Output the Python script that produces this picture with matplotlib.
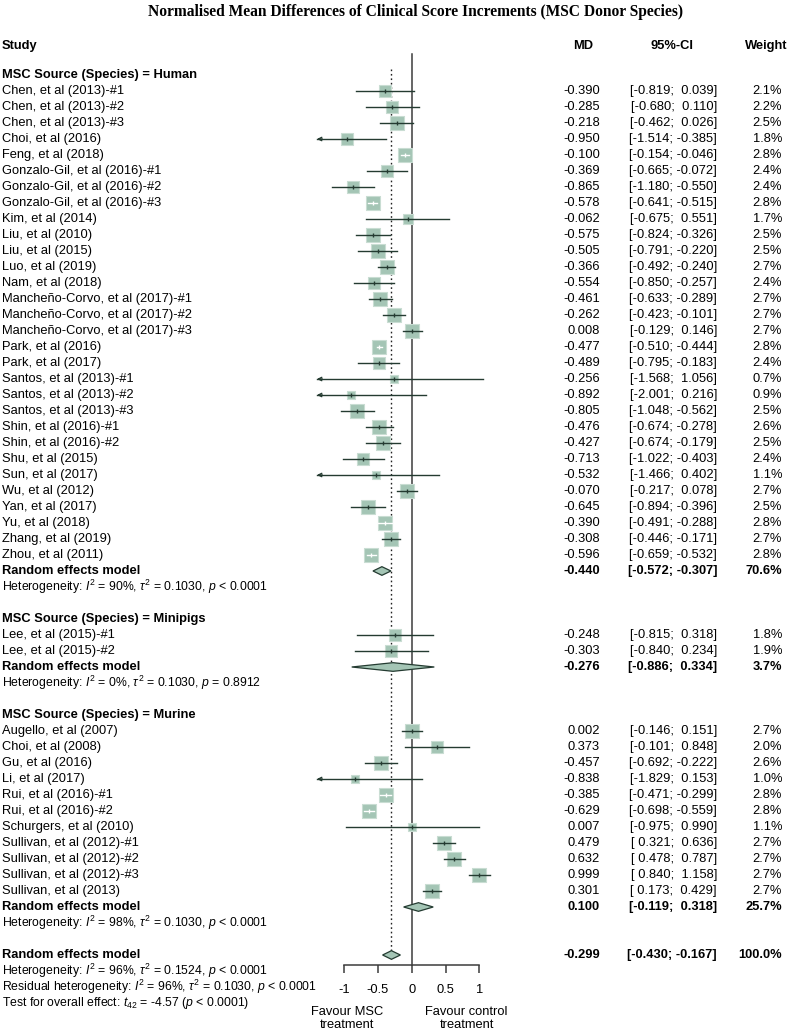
import matplotlib.pyplot as plt
import matplotlib.transforms as mtransforms
import numpy as np

plt.rcParams['font.family'] = ['Liberation Sans', 'DejaVu Sans']
plt.rcParams['mathtext.fontset'] = 'custom'
plt.rcParams['mathtext.rm'] = 'Liberation Sans'
plt.rcParams['mathtext.it'] = 'Liberation Sans:italic'
plt.rcParams['mathtext.bf'] = 'Liberation Sans:bold'

# --- data -------------------------------------------------------------
human_names = ['Chen, et al (2013)-#1', 'Chen, et al (2013)-#2', 'Chen, et al (2013)-#3',
               'Choi, et al (2016)', 'Feng, et al (2018)', 'Gonzalo-Gil, et al (2016)-#1',
               'Gonzalo-Gil, et al (2016)-#2', 'Gonzalo-Gil, et al (2016)-#3', 'Kim, et al (2014)',
               'Liu, et al (2010)', 'Liu, et al (2015)', 'Luo, et al (2019)', 'Nam, et al (2018)',
               'Mancheño-Corvo, et al (2017)-#1', 'Mancheño-Corvo, et al (2017)-#2',
               'Mancheño-Corvo, et al (2017)-#3', 'Park, et al (2016)', 'Park, et al (2017)',
               'Santos, et al (2013)-#1', 'Santos, et al (2013)-#2', 'Santos, et al (2013)-#3',
               'Shin, et al (2016)-#1', 'Shin, et al (2016)-#2', 'Shu, et al (2015)',
               'Sun, et al (2017)', 'Wu, et al (2012)', 'Yan, et al (2017)', 'Yu, et al (2018)',
               'Zhang, et al (2019)', 'Zhou, et al (2011)']
human_md = [-0.390, -0.285, -0.218, -0.950, -0.100, -0.369, -0.865, -0.578, -0.062, -0.575,
            -0.505, -0.366, -0.554, -0.461, -0.262, 0.008, -0.477, -0.489, -0.256, -0.892,
            -0.805, -0.476, -0.427, -0.713, -0.532, -0.070, -0.645, -0.390, -0.308, -0.596]
human_lo = [-0.819, -0.680, -0.462, -1.514, -0.154, -0.665, -1.180, -0.641, -0.675, -0.824,
            -0.791, -0.492, -0.850, -0.633, -0.423, -0.129, -0.510, -0.795, -1.568, -2.001,
            -1.048, -0.674, -0.674, -1.022, -1.466, -0.217, -0.894, -0.491, -0.446, -0.659]
human_hi = [0.039, 0.110, 0.026, -0.385, -0.046, -0.072, -0.550, -0.515, 0.551, -0.326,
            -0.220, -0.240, -0.257, -0.289, -0.101, 0.146, -0.444, -0.183, 1.056, 0.216,
            -0.562, -0.278, -0.179, -0.403, 0.402, 0.078, -0.396, -0.288, -0.171, -0.532]
human_w = [2.1, 2.2, 2.5, 1.8, 2.8, 2.4, 2.4, 2.8, 1.7, 2.5, 2.5, 2.7, 2.4, 2.7, 2.7, 2.7,
           2.8, 2.4, 0.7, 0.9, 2.5, 2.6, 2.5, 2.4, 1.1, 2.7, 2.5, 2.8, 2.7, 2.8]
human_re = (-0.440, -0.572, -0.307, 70.6)
human_het = r'Heterogeneity: $\mathit{I}^2$ = 90%, $\tau^2$ = 0.1030, $\mathit{p}$ < 0.0001'

mini_names = ['Lee, et al (2015)-#1', 'Lee, et al (2015)-#2']
mini_md = [-0.248, -0.303]
mini_lo = [-0.815, -0.840]
mini_hi = [0.318, 0.234]
mini_w = [1.8, 1.9]
mini_re = (-0.276, -0.886, 0.334, 3.7)
mini_het = r'Heterogeneity: $\mathit{I}^2$ = 0%, $\tau^2$ = 0.1030, $\mathit{p}$ = 0.8912'

mur_names = ['Augello, et al (2007)', 'Choi, et al (2008)', 'Gu, et al (2016)', 'Li, et al (2017)',
             'Rui, et al (2016)-#1', 'Rui, et al (2016)-#2', 'Schurgers, et al (2010)',
             'Sullivan, et al (2012)-#1', 'Sullivan, et al (2012)-#2', 'Sullivan, et al (2012)-#3',
             'Sullivan, et al (2013)']
mur_md = [0.002, 0.373, -0.457, -0.838, -0.385, -0.629, 0.007, 0.479, 0.632, 0.999, 0.301]
mur_lo = [-0.146, -0.101, -0.692, -1.829, -0.471, -0.698, -0.975, 0.321, 0.478, 0.840, 0.173]
mur_hi = [0.151, 0.848, -0.222, 0.153, -0.299, -0.559, 0.990, 0.636, 0.787, 1.158, 0.429]
mur_w = [2.7, 2.0, 2.6, 1.0, 2.8, 2.8, 1.1, 2.7, 2.7, 2.7, 2.7]
mur_re = (0.100, -0.119, 0.318, 25.7)
mur_het = r'Heterogeneity: $\mathit{I}^2$ = 98%, $\tau^2$ = 0.1030, $\mathit{p}$ < 0.0001'

overall_re = (-0.299, -0.430, -0.167, 100.0)
overall_text = [r'Heterogeneity: $\mathit{I}^2$ = 96%, $\tau^2$ = 0.1524, $\mathit{p}$ < 0.0001',
                r'Residual heterogeneity: $\mathit{I}^2$ = 96%, $\tau^2$ = 0.1030, $\mathit{p}$ < 0.0001',
                r'Test for overall effect: $\mathit{t}_{42}$ = -4.57 ($\mathit{p}$ < 0.0001)']

groups = [('Human', human_names, human_md, human_lo, human_hi, human_w, human_re, human_het),
          ('Minipigs', mini_names, mini_md, mini_lo, mini_hi, mini_w, mini_re, mini_het),
          ('Murine', mur_names, mur_md, mur_lo, mur_hi, mur_w, mur_re, mur_het)]

ticks = [-1, -0.5, 0, 0.5, 1]
tick_labels = ['-1', '-0.5', '0', '0.5', '1']

# --- layout -----------------------------------------------------------
W, H = 790, 1031
ROW, Y0 = 16, 75          # px per row, px of first row
X0, XU = 411.7, 67.7      # px of MD = 0, px per MD unit
XMIN = -1.4               # left clip of the forest
FS = 9.3
HS = 8.8                  # heterogeneity text size
SQ = '#a4c5b5'
SQ_EDGE = '#c9ddd3'
LN = '#243b31'

fig = plt.figure(figsize=(W / 100, H / 100), dpi=100)
ax = fig.add_axes([0, 0, 1, 1])
ax.set_xlim(-X0 / XU, (W - X0) / XU)
ax.set_ylim((H - Y0) / ROW, -Y0 / ROW)
ax.axis('off')
tr = mtransforms.blended_transform_factory(fig.transFigure, ax.transData)


def row(px):
    return (px - Y0) / ROW


def txt(xpx, r, s, ha='left', bold=False, size=FS):
    ax.text(xpx / W, r, s, transform=tr, ha=ha, va='center', fontsize=size,
            fontweight='bold' if bold else 'normal')


def ci_str(lo, hi):
    return '[' + f'{lo:6.3f}' + '; ' + f'{hi:6.3f}' + ']'


def diamond(md, lo, hi, r, h=0.27):
    ax.fill([lo, md, hi, md], [r, r - h, r, r + h], facecolor=SQ, edgecolor=LN, lw=0.9, zorder=4)


fig.text(415 / W, 1 - 12 / H,
         'Normalised Mean Differences of Clinical Score Increments (MSC Donor Species)',
         ha='center', va='center', fontsize=11.2, fontweight='bold', family='Liberation Serif')

hr = row(46)
txt(2, hr, 'Study', bold=True)
txt(583, hr, 'MD', ha='center', bold=True)
txt(672, hr, '95%-CI', ha='center', bold=True)
txt(787, hr, 'Weight', ha='right', bold=True)

r = 0
for name, names, md, lo, hi, w, re, het in groups:
    txt(2, r, f'MSC Source (Species) = {name}', bold=True)
    r += 1
    for i in range(len(names)):
        txt(2, r, names[i])
        txt(600, r, f'{md[i]:.3f}', ha='right')
        txt(717, r, ci_str(lo[i], hi[i]), ha='right')
        txt(782, r, f'{w[i]:.1f}%', ha='right')
        side = 8.37 * np.sqrt(w[i])
        ax.scatter(md[i], r, s=(side * 0.72) ** 2, marker='s', color=SQ,
                   edgecolors=SQ_EDGE, linewidths=0.8, zorder=3)
        inside = (hi[i] - lo[i]) * XU < side
        c = 'white' if inside else LN
        left = max(lo[i], XMIN)
        ax.plot([left, hi[i]], [r, r], color=c, lw=1.0, zorder=5)
        ax.plot(md[i], r, marker='|', ms=3.5, mew=1.0, color=c, zorder=5)
        if lo[i] < XMIN:
            ax.annotate('', xy=(XMIN, r), xytext=(XMIN + 0.08, r),
                        arrowprops=dict(arrowstyle='->', color=LN, lw=1.0,
                                        shrinkA=0, shrinkB=0, mutation_scale=6), zorder=5)
        r += 1
    txt(2, r, 'Random effects model', bold=True)
    txt(600, r, f'{re[0]:.3f}', ha='right', bold=True)
    txt(717, r, ci_str(re[1], re[2]), ha='right', bold=True)
    txt(782, r, f'{re[3]:.1f}%', ha='right', bold=True)
    diamond(re[0], re[1], re[2], r)
    r += 1
    txt(2, r, het, size=HS)
    r += 2

txt(2, r, 'Random effects model', bold=True)
txt(600, r, f'{overall_re[0]:.3f}', ha='right', bold=True)
txt(717, r, ci_str(overall_re[1], overall_re[2]), ha='right', bold=True)
txt(782, r, f'{overall_re[3]:.1f}%', ha='right', bold=True)
diamond(overall_re[0], overall_re[1], overall_re[2], r)
ov_row = r
for k, s in enumerate(overall_text):
    txt(2, r + 1 + k, s, size=HS)

# reference lines
ax.plot([0, 0], [row(54), row(965)], color='#3c3c3c', lw=1.1, zorder=2)
ax.plot([overall_re[0]] * 2, [row(69), ov_row - 0.27], color='#222222', lw=1.0,
        ls=(0, (1.2, 2.0)), zorder=2)

# x axis
x1, x2 = (X0 + XU * ticks[0]) / W, (X0 + XU * ticks[-1]) / W
axx = fig.add_axes([x1, 1 - 965 / H, x2 - x1, 0.001])
axx.set_xlim(ticks[0], ticks[-1])
axx.set_yticks([])
for sp in ['top', 'left', 'right']:
    axx.spines[sp].set_visible(False)
axx.spines['bottom'].set_color('#3c3c3c')
axx.spines['bottom'].set_linewidth(1.1)
axx.patch.set_visible(False)
axx.set_xticks(ticks)
axx.set_xticklabels(tick_labels, fontsize=FS)
axx.tick_params(axis='x', length=5.8, width=1.1, color='#3c3c3c', pad=8)

txt(X0 + XU * -0.95, row(1012), 'Favour MSC', ha='center')
txt(X0 + XU * -0.95, row(1025), 'treatment', ha='center')
txt(X0 + XU * 0.81, row(1012), 'Favour control', ha='center')
txt(X0 + XU * 0.81, row(1025), 'treatment', ha='center')

fig.savefig('out.png', dpi=100)
